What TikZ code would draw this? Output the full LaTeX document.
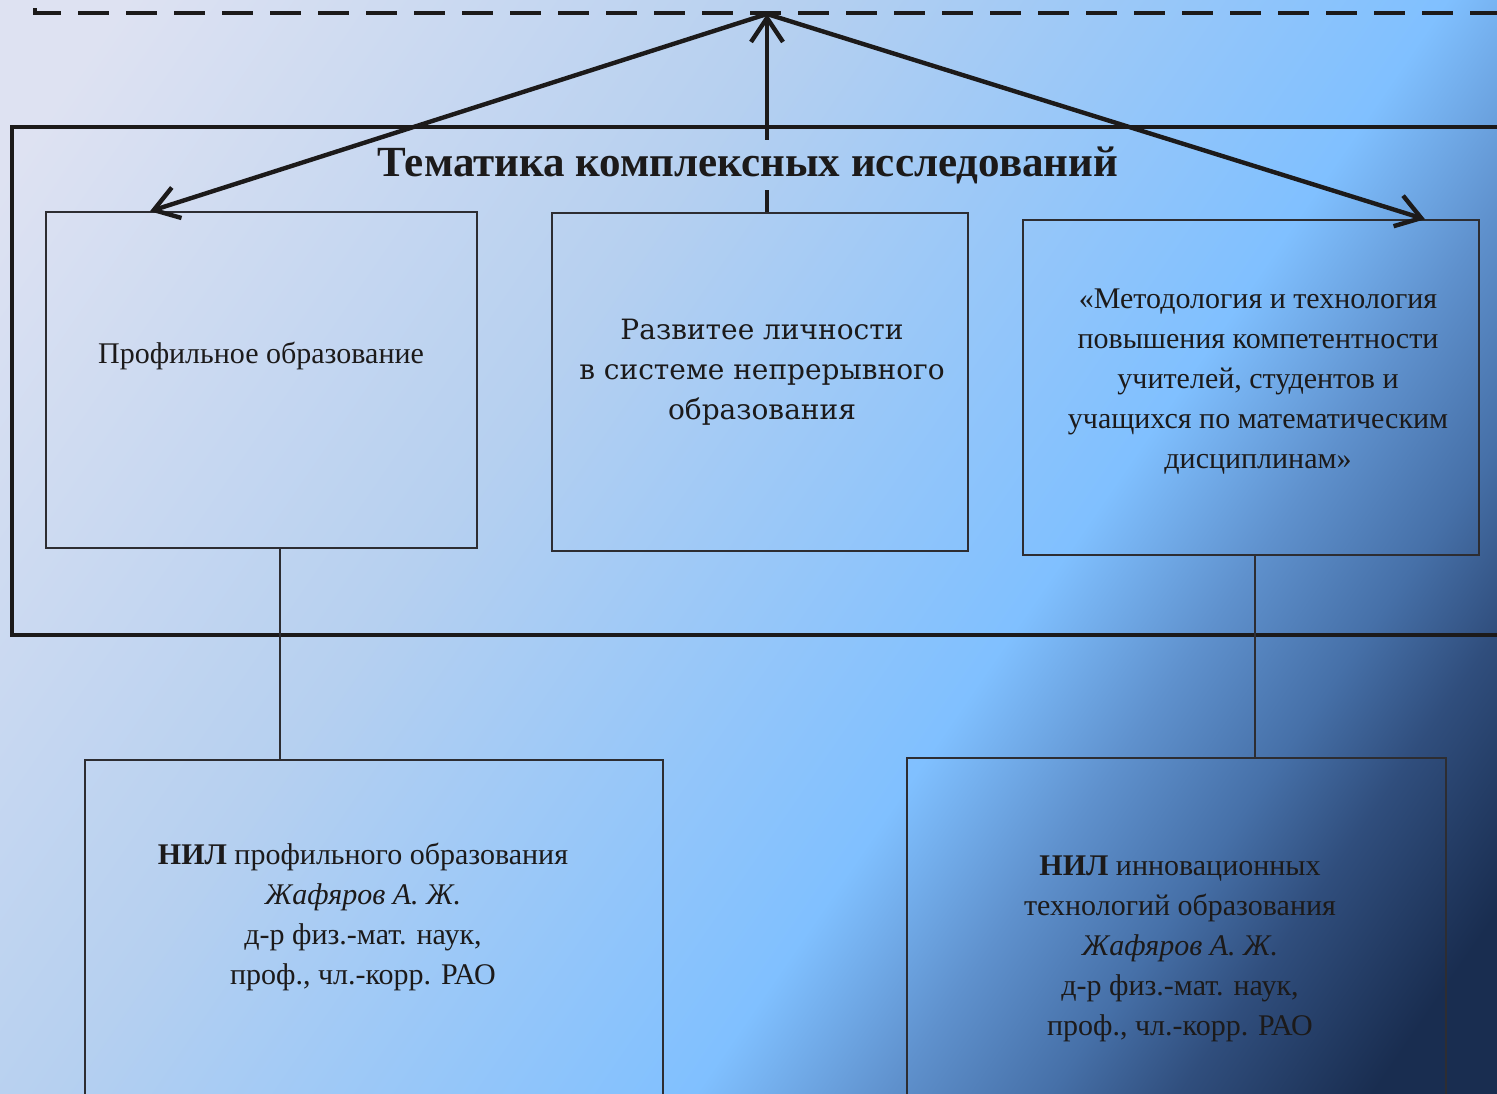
\documentclass[tikz,border=0pt]{standalone}
\usepackage{fontspec}
\setmainfont{Liberation Serif}
\newfontfamily\widefont{DejaVu Serif}
\usetikzlibrary{arrows.meta,positioning}

\definecolor{bgpale}{RGB}{222,226,242}
\definecolor{bgsoft}{RGB}{182,208,240}
\definecolor{bgsky}{RGB}{128,192,255}
\definecolor{bgmid}{RGB}{95,145,205}
\definecolor{bgsteel}{RGB}{70,112,168}
\definecolor{bgdeep}{RGB}{48,78,125}
\definecolor{bgnavy}{RGB}{25,45,80}
\definecolor{inkdark}{RGB}{28,26,26}
\definecolor{boxline}{RGB}{45,45,50}

\pgfdeclarehorizontalshading{bgshade}{100bp}{color(0bp)=(bgpale); color(19bp)=(bgpale); color(40bp)=(bgsoft); color(60bp)=(bgsky); color(66bp)=(bgmid); color(71bp)=(bgsteel); color(75bp)=(bgdeep); color(81bp)=(bgnavy); color(100bp)=(bgnavy)}

\tikzset{every picture/.style={line width=0.75pt}}
\tikzset{
  topicbox/.style={draw=boxline, line width=0.75pt, rectangle, inner sep=0pt},
  boxtext/.style={align=center, font=\fontsize{15}{20}\selectfont, text=inkdark},
  heavy/.style={line width=2.2pt, draw=inkdark},
  link/.style={line width=0.75pt, draw=boxline},
  tip/.style={-{Straight Barb[length=12pt,width=16pt]}}
}

\begin{document}
\begin{tikzpicture}[x=0.5pt,y=0.5pt,yscale=-1,xscale=1]
\useasboundingbox (0,0) rectangle (1497,1093);
\clip (0,0) rectangle (1497,1093);

% background
\shade[shading=bgshade, shading angle=-34.5] (0,0) rectangle (1497,1093);

% dashed frame above
\draw[heavy, dash pattern=on 15.5pt off 8.5pt] (35,-40) -- (35,13) -- (1530,13);
% frame of the topics
\draw[heavy] (12,127) rectangle (1530,635);

% Title
\node[font=\fontsize{21.5}{26}\selectfont\bfseries, text=inkdark, inner sep=3pt] (title) at (748,165) {Тематика комплексных исследований};

% Topic boxes
\node[topicbox, minimum width=215.5pt, minimum height=168pt] (prof) at (261.5,380) {};
\node[boxtext] (proftext) at (261,356) {Профильное образование};

\node[topicbox, minimum width=208pt, minimum height=169pt] (person) at (760,382) {};
\node[boxtext, font=\widefont\fontsize{14}{20}\selectfont] (persontext) at (762,372) {Развитее личности\\в системе непрерывного\\образования};

\node[topicbox, minimum width=228pt, minimum height=167.5pt] (method) at (1251,387.5) {};
\node[boxtext] (methodtext) at (1258,382) {«Методология и технология\\повышения компетентности\\учителей, студентов и\\учащихся по математическим\\дисциплинам»};

% Laboratory boxes
\node[topicbox, minimum width=289pt, minimum height=220pt] (nilprof) at (374,980) {};
\node[boxtext] (nilproftext) at (363,917) {\textbf{НИЛ} профильного образования\\\textit{Жафяров А. Ж.}\\д-р физ.-мат. наук,\\проф., чл.-корр. РАО};

\node[topicbox, minimum width=269.5pt, minimum height=221pt] (nilinno) at (1176.5,979) {};
\node[boxtext] (nilinnotext) at (1180,949) {\textbf{НИЛ} инновационных\\технологий образования\\\textit{Жафяров А. Ж.}\\д-р физ.-мат. наук,\\проф., чл.-корр. РАО};

% Arrows
\coordinate (apex) at (767,14);
\draw[heavy, tip] (apex) -- ([xshift=-55.75pt]prof.north);
\draw[heavy, tip] (apex) -- ([xshift=87pt]method.north);
\draw[heavy] ([xshift=3.5pt]person.north) -- ([xshift=3.5pt]person.north |- title.south);
\draw[heavy, tip] ([xshift=3.5pt]person.north |- title.north) -- (apex);

% Links to laboratories
\draw[link] ([xshift=9.25pt]prof.south) -- ([xshift=9.25pt]prof.south |- nilprof.north);
\draw[link] ([xshift=2pt]method.south) -- ([xshift=2pt]method.south |- nilinno.north);

\end{tikzpicture}
\end{document}
